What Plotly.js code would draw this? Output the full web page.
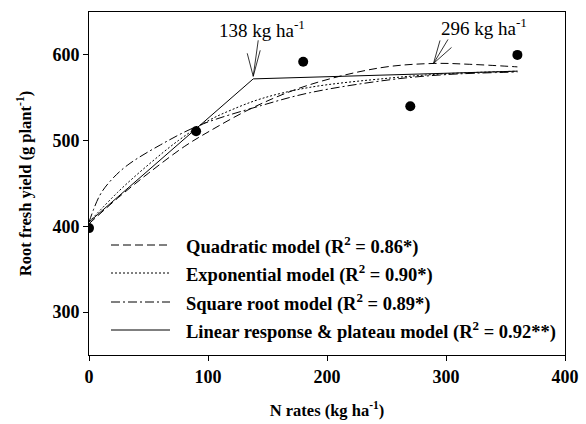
<!DOCTYPE html>
<html>
<head>
<meta charset="utf-8">
<script src="https://cdn.plot.ly/plotly-3.0.1.min.js"></script>
<style>html,body{margin:0;padding:0;background:#fff;}#chart{width:586px;height:424px;}</style>
</head>
<body>
<div id="chart"></div>
<script>
// Observed data
const obsN = [0, 90, 180, 270, 360];
const obsYield = [398, 511, 592, 540, 600];

// Fitted curves
const quadN = [0, 25, 50, 80, 100, 140, 185, 245, 290, 320, 360];
const quadY = [403, 434, 462, 493, 510, 540, 565, 585, 590, 589, 586];

const expN = [0, 25, 50, 75, 100, 120, 145, 185, 253, 300, 360];
const expY = [405, 441, 472, 500, 523, 536, 549, 562, 573, 578, 581];

const sqrtN = [0, 9, 18, 32, 60, 93, 145, 186, 253, 300, 360];
const sqrtY = [405, 436, 453, 471, 495, 518, 541, 556, 571, 577, 580];

const lpN = [0, 138, 360];
const lpY = [405, 572, 581];

// Legend text
const modelNames = ["Quadratic model", "Exponential model", "Square root model", "Linear response & plateau model"];
const modelR2 = ["0.86*", "0.90*", "0.89*", "0.92**"];
const modelDash = ["8px,4px", "2px,2px", "9px,3px,2px,3px", "solid"];

// Optimum annotations
const optN = [138, 289.5];
const optY = [575, 590];
const optLabels = ["138 kg ha<sup>-1</sup>", "296 kg ha<sup>-1</sup>"];

const serif = "Liberation Serif, Times New Roman, serif";
const lineW = 1;

const traces = [
  {x: quadN, y: quadY, mode: "lines", line: {color: "black", width: lineW, dash: modelDash[0], shape: "spline", smoothing: 1}, name: modelNames[0]},
  {x: expN, y: expY, mode: "lines", line: {color: "black", width: lineW, dash: modelDash[1], shape: "spline", smoothing: 1}, name: modelNames[1]},
  {x: sqrtN, y: sqrtY, mode: "lines", line: {color: "black", width: lineW, dash: modelDash[2], shape: "spline", smoothing: 1}, name: modelNames[2]},
  {x: lpN, y: lpY, mode: "lines", line: {color: "black", width: lineW, dash: modelDash[3]}, name: modelNames[3]},
  {x: obsN, y: obsYield, mode: "markers", marker: {color: "black", size: 10}, name: "Observed"}
];

// plot area in pixels
const L = 89, R = 565, T = 12, B = 355;
const px2x = p => (p - L) / (R - L);
const py2y = p => (B - p) / (B - T);

const shapes = [];
const annotations = [];
const rowsY = [245, 273, 302, 330];
modelNames.forEach((nm, i) => {
  shapes.push({type: "line", xref: "paper", yref: "paper", x0: px2x(111), x1: px2x(170), y0: py2y(rowsY[i]), y1: py2y(rowsY[i]),
    line: {color: "black", width: 1, dash: modelDash[i]}});
  annotations.push({xref: "paper", yref: "paper", x: px2x(184), y: py2y(rowsY[i]), xanchor: "left", yanchor: "middle", showarrow: false,
    text: "<b>" + nm + " (R<sup>2</sup> = " + modelR2[i] + ")</b>",
    font: {family: serif, size: 18.5, color: "black"}});
});

// optimum labels
const labelPos = [[262, 29], [484, 27]];
optLabels.forEach((t, i) => {
  annotations.push({xref: "paper", yref: "paper", x: px2x(labelPos[i][0]), y: py2y(labelPos[i][1]), xanchor: "center", yanchor: "middle",
    showarrow: false, text: t, font: {family: serif, size: 19, color: "black"}});
});
// arrow fans (pixel offsets from the tip; y positive = up)
const fans = [
  [[5, 36], [-6, 23], [7, 26]],
  [[14.5, 24], [6.5, 23], [18, 16]]
];
fans.forEach((f, i) => {
  f.forEach(o => {
    shapes.push({type: "line", xref: "x", yref: "y", xsizemode: "pixel", ysizemode: "pixel",
      xanchor: optN[i], yanchor: optY[i], x0: 0, y0: 0, x1: o[0], y1: o[1],
      line: {color: "black", width: 0.8}});
  });
});

const axisFont = {family: serif, size: 18, color: "black", weight: "bold"};
const titleFont = {family: serif, size: 16.5, color: "black", weight: "bold"};

const layout = {
  width: 586, height: 424,
  margin: {l: L, r: 586 - R, t: T, b: 424 - B},
  paper_bgcolor: "white", plot_bgcolor: "white",
  showlegend: false,
  xaxis: {range: [0, 400], tick0: 0, dtick: 100, ticks: "outside", ticklen: 5, tickwidth: 1, tickcolor: "black",
    showline: true, linecolor: "black", linewidth: 1, mirror: true, showgrid: false, zeroline: false,
    tickfont: axisFont, title: {text: "N rates (kg ha<sup>-1</sup>)", font: titleFont, standoff: 18}},
  yaxis: {range: [250, 650], tick0: 0, dtick: 100, ticks: "outside", ticklen: 5, tickwidth: 1, tickcolor: "black",
    showline: true, linecolor: "black", linewidth: 1, mirror: true, showgrid: false, zeroline: false,
    tickfont: axisFont, title: {text: "Root fresh yield (g plant<sup>-1</sup>)", font: titleFont, standoff: 16}},
  shapes: shapes,
  annotations: annotations
};

Plotly.newPlot("chart", traces, layout, {displayModeBar: false, staticPlot: true});
</script>
</body>
</html>
